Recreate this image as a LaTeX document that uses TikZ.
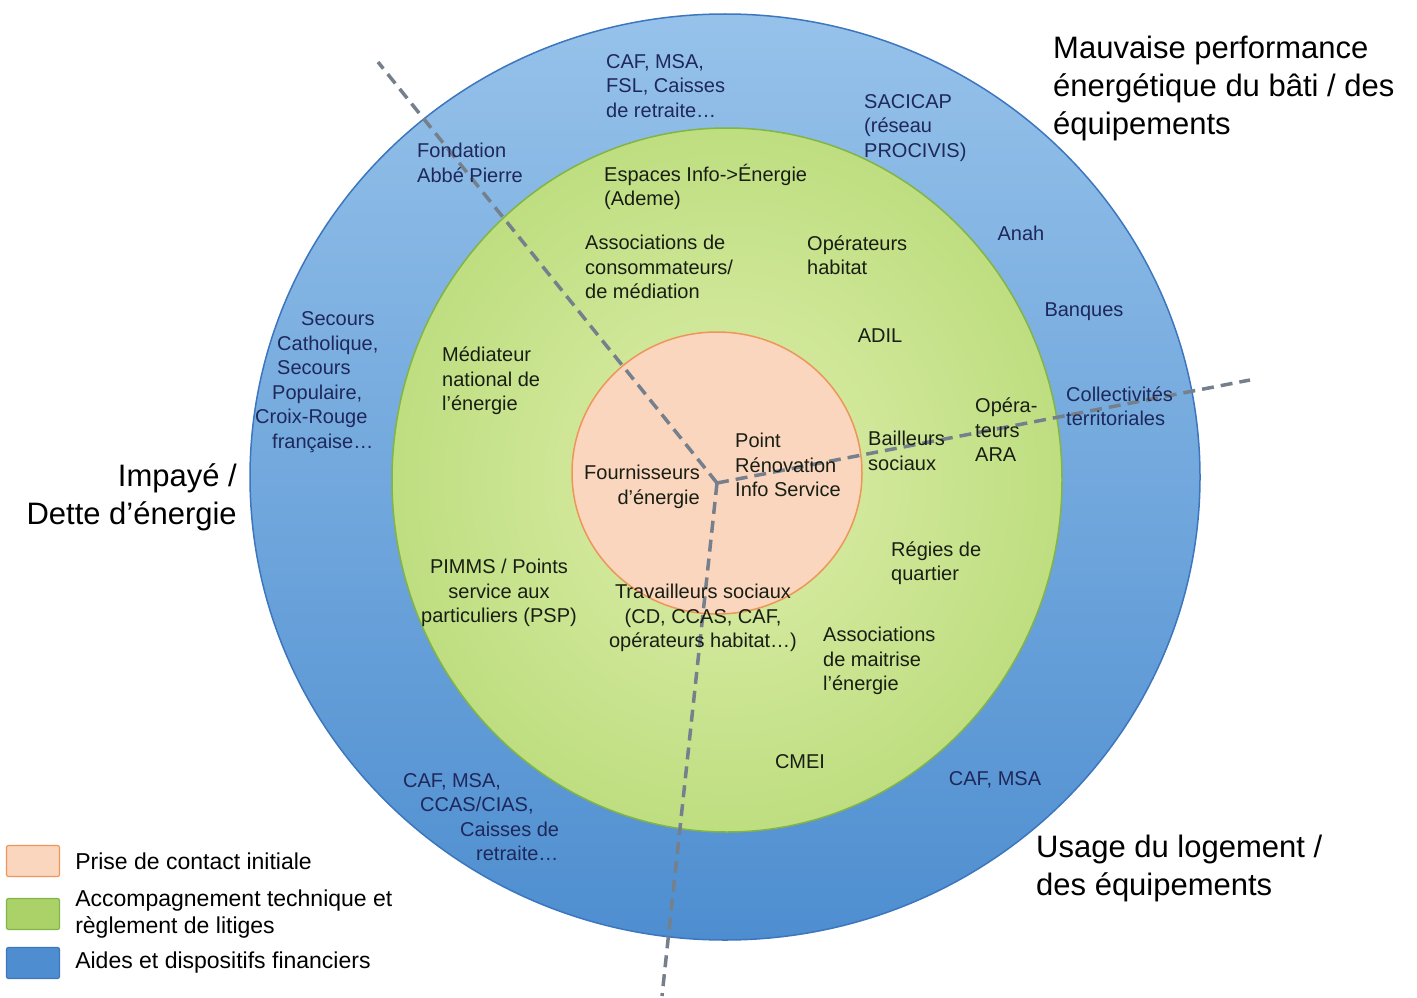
\documentclass[tikz,border=0pt]{standalone}
\usepackage{fontspec}
\setmainfont{Liberation Sans}
\usetikzlibrary{positioning}
\definecolor{bluetop}{RGB}{150,194,234}
\definecolor{bluebot}{RGB}{78,142,208}
\definecolor{blueedge}{RGB}{60,118,190}
\definecolor{greenin}{RGB}{222,238,172}
\definecolor{greenout}{RGB}{190,222,128}
\definecolor{greenedge}{RGB}{130,180,70}
\definecolor{greenkey}{RGB}{170,210,105}
\definecolor{orangefill}{RGB}{251,214,190}
\definecolor{orangeedge}{RGB}{238,150,90}
\definecolor{sepgray}{RGB}{118,128,140}
\definecolor{navytxt}{RGB}{30,40,90}
\definecolor{greentxt}{RGB}{25,30,20}
\begin{document}
\begin{tikzpicture}[x=1pt,y=-1pt,
  blu/.style={inner sep=0pt, text=navytxt, font=\fontsize{20}{24.5}\selectfont},
  grn/.style={inner sep=0pt, text=greentxt, font=\fontsize{20}{24.5}\selectfont},
  ttl/.style={inner sep=0pt, font=\fontsize{31}{38}\selectfont},
  swatch/.style={minimum width=53pt, minimum height=31pt, rounded corners=2pt, line width=1.2pt},
  keytxt/.style={inner sep=0pt, font=\fontsize{23}{27}\selectfont, align=left},
  divider/.style={draw=sepgray, line width=3.5pt, dash pattern=on 12pt off 7pt}]
\useasboundingbox (0,0) rectangle (1417,998);
% rings
\shade[top color=bluetop, bottom color=bluebot, draw=blueedge, line width=1.5pt] (725,477) ellipse [x radius=475, y radius=463];
\shade[inner color=greenin, outer color=greenout, draw=greenedge, line width=1.5pt] (727,480) ellipse [x radius=335, y radius=352];
\draw[fill=orangefill, draw=orangeedge, line width=1.5pt] (717,473) ellipse [x radius=145, y radius=141];
% dividers
\coordinate (ctr) at (717,483);
\coordinate (endnw) at (378,62);
\coordinate (ende) at (1250,380);
\coordinate (ends) at (662,996);
\draw[divider](ctr) -- (endnw);
\draw[divider](ctr) -- (ende);
\draw[divider](ctr) -- (ends);
% blue ring
\node[blu, anchor=west, align=left] (bl0) at (606,86){CAF, MSA,\\FSL, Caisses\\de retraite…};
\node[blu, anchor=west, align=left] (bl1) at (864,128){SACICAP\\(réseau\\PROCIVIS)};
\node[blu, anchor=west, align=left] (bl2) at (417,163){Fondation\\Abbé Pierre};
\node[blu] (bl3) at (1021,233){Anah};
\node[blu] (bl4) at (1084,312){Banques};
\node[blu, anchor=west, align=left] (bl5) at (1066,406){Collectivités\\territoriales};
\node[blu, anchor=west, align=left] (bl6) at (255,382){\hspace*{46pt}Secours\\\hspace*{22pt}Catholique,\\\hspace*{22pt}Secours\\\hspace*{17pt}Populaire,\\Croix-Rouge\\\hspace*{17pt}française…};
\node[blu, anchor=west, align=left] (bl7) at (403,817){CAF, MSA,\\\hspace*{17pt}CCAS/CIAS,\\\hspace*{57pt}Caisses de\\\hspace*{73pt}retraite…};
\node[blu] (bl8) at (995,780){CAF, MSA};
% green ring
\node[grn, anchor=west, align=left] (gr0) at (604,187){Espaces Info->Énergie\\(Ademe)};
\node[grn, anchor=west, align=left] (gr1) at (585,267){Associations de\\consommateurs/\\de médiation};
\node[grn, anchor=west, align=left] (gr2) at (807,255){Opérateurs\\habitat};
\node[grn] (gr3) at (880,336){ADIL};
\node[grn, anchor=west, align=left] (gr4) at (442,381){Médiateur\\national de\\l’énergie};
\node[grn, anchor=west, align=left] (gr5) at (975,430){Opéra-\\teurs\\ARA};
\node[grn, anchor=west, align=left] (gr6) at (868,451){Bailleurs\\sociaux};
\node[grn, anchor=west, align=left] (gr7) at (891,563){Régies de\\quartier};
\node[grn, align=center] (gr8) at (499,593){PIMMS / Points\\service aux\\particuliers (PSP)};
\node[grn, align=center] (gr9) at (703,618){Travailleurs sociaux\\(CD, CCAS, CAF,\\opérateurs habitat…)};
\node[grn, anchor=west, align=left] (gr10) at (823,661){Associations\\de maitrise\\l’énergie};
\node[grn] (gr11) at (800,762){CMEI};
% orange core
\node[grn, anchor=west, align=left] (or0) at (735,465){Point\\Rénovation\\Info Service};
\node[grn, anchor=east, align=right] (or1) at (700,487){Fournisseurs\\d’énergie};
% titles
\node[ttl, anchor=west, align=left] (ttl0) at (1053,88){Mauvaise performance\\énergétique du bâti / des\\équipements};
\node[ttl, anchor=east, align=right] (ttl1) at (237,497){Impayé /\\Dette d’énergie};
\node[ttl, anchor=west, align=left] (ttl2) at (1036,868){Usage du logement /\\des équipements};
% legend
\node[swatch, fill=orangefill, draw=orangeedge] (key0) at (33,861){};
\node[swatch, fill=greenkey, draw=greenedge] (key1) at (33,914){};
\node[swatch, fill=bluebot, draw=blueedge] (key2) at (33,963){};
\node[keytxt, right=15pt of key0] (keytxt0){Prise de contact initiale};
\node[keytxt, right=15pt of key1] (keytxt1){Accompagnement technique et\\règlement de litiges};
\node[keytxt, right=15pt of key2] (keytxt2){Aides et dispositifs financiers};
\end{tikzpicture}
\end{document}
